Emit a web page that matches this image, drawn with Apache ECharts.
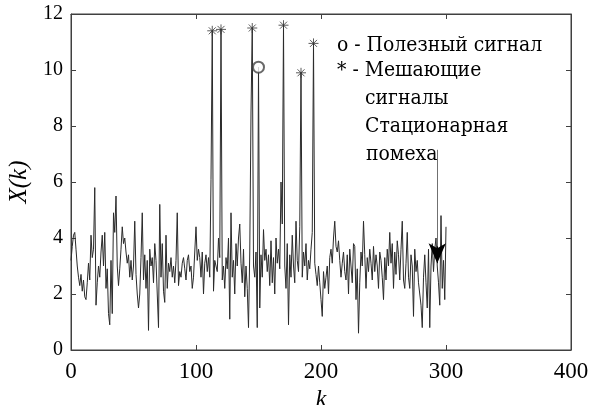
<!DOCTYPE html>
<html><head><meta charset="utf-8">
<script src="https://cdn.jsdelivr.net/npm/echarts@6/dist/echarts.min.js"></script>
<style>html,body{margin:0;padding:0;background:#fff}#c{width:590px;height:405px}</style>
</head><body><div id="c"></div>
<script>
// X(k), k = 0..300
const signal = [
 3.2, 3.7, 4.1, 4.2, 3.6, 3.0, 2.6, 2.3, 2.7, 2.1,
 2.5, 1.9, 1.8, 2.4, 3.1, 2.5, 4.1, 3.3, 3.6, 5.8,
 1.6, 2.4, 3.0, 2.6, 3.5, 4.1, 3.0, 4.2, 2.2, 2.9,
 1.3, 0.9, 3.2, 1.3, 4.9, 4.2, 5.5, 3.0, 2.3, 2.9,
 3.6, 4.4, 3.8, 4.0, 3.5, 3.1, 3.4, 2.6, 3.2, 2.5,
 3.0, 4.6, 2.7, 2.0, 1.5, 2.0, 3.3, 4.9, 2.5, 3.4,
 2.2, 3.2, 0.7, 3.6, 3.0, 3.3, 2.4, 3.8, 3.2, 2.0,
 0.8, 5.2, 2.6, 3.8, 2.1, 1.7, 4.1, 2.2, 3.1, 2.8,
 3.3, 2.6, 3.0, 2.4, 3.2, 4.9, 2.3, 2.8, 2.6, 3.1,
 3.3, 2.9, 2.5, 3.2, 3.4, 2.8, 3.0, 2.2, 2.6, 3.5,
 4.4, 3.2, 3.6, 3.3, 2.6, 3.5, 2.0, 3.1, 3.4, 2.8,
 3.3, 2.6, 6.1, 11.4, 2.1, 3.2, 3.0, 2.8, 4.0, 3.3,
 11.45, 2.5, 3.0, 2.2, 3.3, 2.9, 4.0, 1.1, 4.9, 2.6,
 3.2, 2.0, 3.8, 3.0, 4.0, 4.5, 3.1, 2.4, 3.6, 1.9,
 3.0, 2.2, 0.8, 3.5, 8.5, 11.5, 3.0, 2.6, 3.5, 0.8,
 10.1, 1.5, 3.4, 2.6, 4.3, 3.2, 3.6, 2.8, 3.4, 2.3,
 3.9, 2.4, 3.3, 2.0, 4.0, 3.1, 3.6, 2.9, 6.0, 4.5,
 11.6, 3.0, 2.2, 3.8, 0.9, 3.4, 2.6, 4.1, 3.0, 2.4,
 4.6, 3.2, 2.8, 4.4, 9.9, 2.6, 3.5, 3.0, 3.8, 2.5,
 3.2, 2.9, 3.6, 4.2, 10.95, 3.1, 2.7, 2.3, 3.0, 2.4,
 1.8, 1.2, 2.8, 2.2, 2.6, 3.0, 2.0, 3.3, 3.6, 3.1,
 4.0, 4.6, 3.7, 3.5, 3.9, 3.2, 2.6, 3.1, 3.5, 2.8,
 2.5, 3.4, 2.0, 3.6, 3.0, 2.4, 3.8, 3.7, 1.8, 2.9,
 0.6, 2.4, 3.5, 3.0, 4.6, 3.4, 2.2, 3.3, 2.8, 3.6,
 3.1, 2.5, 3.7, 2.8, 3.4, 3.0, 2.2, 3.5, 3.2, 2.6,
 1.8, 3.3, 2.5, 3.6, 3.0, 4.2, 3.1, 3.8, 2.2, 3.5,
 2.7, 3.9, 3.4, 2.5, 3.6, 4.6, 2.5, 2.2, 3.1, 4.2,
 2.6, 2.2, 3.4, 3.0, 1.2, 3.6, 2.8, 3.2, 2.4, 2.0,
 1.6, 0.8, 2.6, 3.4, 2.4, 1.5, 3.6, 0.8, 3.0, 3.8,
 2.8, 3.6, 4.0, 3.0, 2.4, 1.6, 4.8, 2.2, 3.2, 1.8,
 4.4
];
const usefulK = [150];                               // полезный сигнал (o)
const interferingK = [113, 120, 145, 170, 184, 194]; // мешающие сигналы (*)
const xTicks = [0, 100, 200, 300, 400];
const yTicks = [0, 2, 4, 6, 8, 10, 12];
const arrowFrom = [293, 7.15], arrowTo = [293, 3.1];

const lineData = signal.map((v, k) => [k, v]);
const starData = interferingK.map(k => [k, signal[k]]);
const circleData = usefulK.map(k => [k, signal[k]]);

const FONT = 'Liberation Serif';
const TFONT = 'DejaVu Serif';
const axisCol = '#404040';
const starPath = 'path://M0,-10L0,10M-10,0L10,0M-7,-7L7,7M-7,7L7,-7';

function mkX(pos, showLabel) {
  const o = {type:'value', position:pos, min:xTicks[0], max:xTicks[xTicks.length-1], interval:100,
    axisLine:{show:true, onZero:false, lineStyle:{color:axisCol, width:1}},
    splitLine:{show:false},
    axisTick:{show:true, inside:true, length:5, lineStyle:{color:axisCol}},
    axisLabel:{show:showLabel, color:'#000', fontFamily:FONT, fontSize:23, margin:10}};
  if (showLabel) {
    o.name = 'k'; o.nameLocation = 'middle'; o.nameGap = 23;
    o.nameTextStyle = {color:'#000', fontFamily:FONT, fontSize:24, fontStyle:'italic'};
  }
  return o;
}
function mkY(pos, showLabel) {
  const o = {type:'value', position:pos, min:yTicks[0], max:yTicks[yTicks.length-1], interval:2,
    axisLine:{show:true, onZero:false, lineStyle:{color:axisCol, width:1}},
    splitLine:{show:false},
    axisTick:{show:true, inside:true, length:5, lineStyle:{color:axisCol}},
    axisLabel:{show:showLabel, color:'#000', fontFamily:FONT, fontSize:20, margin:8}};
  if (showLabel) {
    o.name = 'X(k)'; o.nameLocation = 'middle'; o.nameGap = 34; o.nameRotate = 90;
    o.nameTextStyle = {color:'#000', fontFamily:FONT, fontSize:25, fontStyle:'italic'};
  }
  return o;
}

const chart = echarts.init(document.getElementById('c'));
const txt = (t, l, y) => ({type:'text', x:l, y:y, scaleX:0.94,
  style:{text:t, fontFamily:TFONT, fontSize:20, fill:'#000', align:'left', verticalAlign:'middle'}});
chart.setOption({
  animation:false,
  backgroundColor:'#fff',
  grid:{left:71, right:19, top:14, bottom:55, containLabel:false, outerBoundsMode:'none', show:true,
        borderColor:axisCol, borderWidth:1, backgroundColor:'transparent'},
  xAxis:[mkX('bottom', true), mkX('top', false)],
  yAxis:[mkY('left', true), mkY('right', false)],
  series:[
    {type:'line', data:lineData, showSymbol:false, symbol:'none',
     lineStyle:{color:'#2a2a2a', width:1}, z:2,
     markLine:{silent:true, symbol:['none','none'], label:{show:false},
       lineStyle:{color:'#707070', width:1, type:'solid'},
       data:[[{coord:arrowFrom},{coord:arrowTo}]]}},
    {type:'line', data:[], markLine:{silent:true, symbol:['none','arrow'], symbolSize:[13,20], label:{show:false},
       lineStyle:{color:'#000', width:1, type:'solid'},
       data:[[{coord:[arrowTo[0], arrowTo[1]+0.6]},{coord:arrowTo}]]}},
    {type:'scatter', data:starData, symbol:starPath, symbolSize:10, z:5,
     itemStyle:{color:'transparent', borderColor:'#333', borderWidth:1}},
    {type:'scatter', data:circleData, symbol:'emptyCircle', symbolSize:11, z:5,
     itemStyle:{color:'#444', borderColor:'#444', borderWidth:1}}
  ],
  graphic:[
    txt('o - Полезный сигнал', 337, 46),
    txt('* - Мешающие', 337, 71),
    txt('сигналы', 365, 99),
    txt('Стационарная', 365, 127),
    txt('помеха', 366, 155)
  ]
});
</script></body></html>
